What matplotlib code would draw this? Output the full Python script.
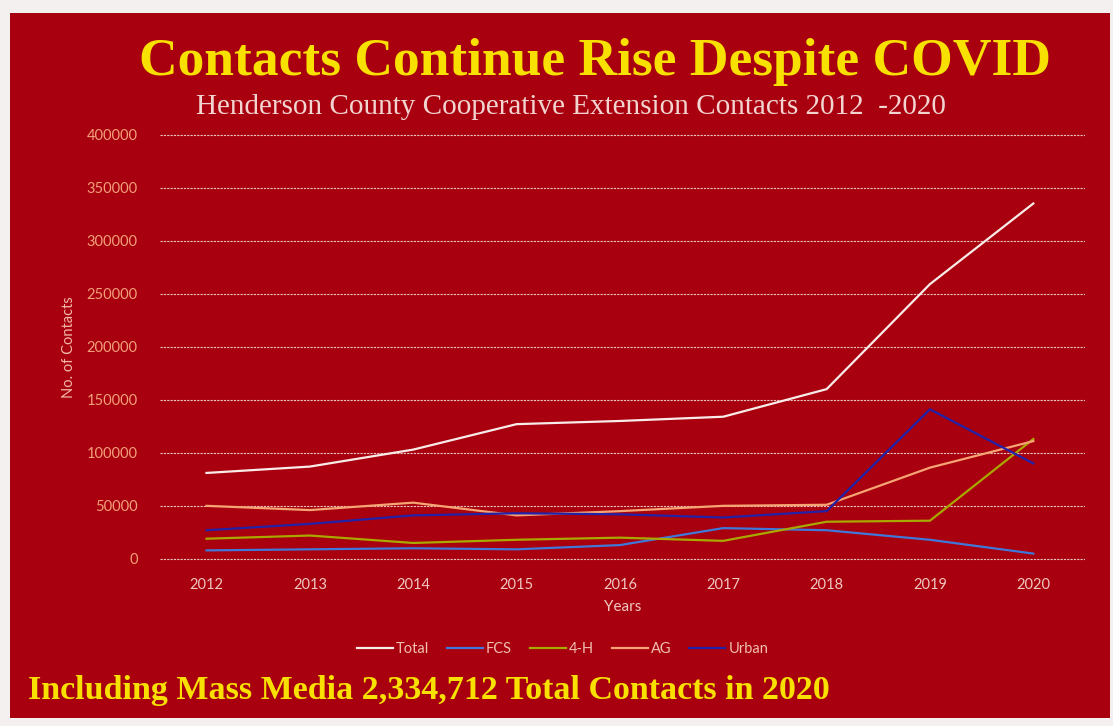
import matplotlib.pyplot as plt
from matplotlib.patches import Rectangle

years = ["2012", "2013", "2014", "2015", "2016", "2017", "2018", "2019", "2020"]
total = [81000, 87000, 103000, 127000, 130000, 134000, 160000, 259000, 335000]
fcs = [8000, 9000, 10000, 9000, 13000, 29000, 27000, 18000, 5000]
four_h = [19000, 22000, 15000, 18000, 20000, 17000, 35000, 36000, 113000]
ag = [50000, 46000, 53000, 41000, 45000, 50000, 51000, 86000, 111000]
urban = [27000, 33000, 41000, 43000, 42000, 39000, 45000, 141000, 90000]

series = [("Total", total, "#f8ece8"), ("FCS", fcs, "#3f78d8"),
          ("4-H", four_h, "#a9a800"), ("AG", ag, "#f6a474"),
          ("Urban", urban, "#2222a8")]

bg = "#a8000e"
fig = plt.figure(figsize=(11.13, 7.26), dpi=100, facecolor="#f4f0f0")
fig.patches.append(Rectangle((10/1113, 1-718/726), 1100/1113, 705/726,
                             transform=fig.transFigure, facecolor=bg, edgecolor="none", zorder=-5))

ax = fig.add_axes([160/1113, 1-561/726, 925/1113, 427/726])
ax.set_facecolor("none")
x = list(range(len(years)))
for name, vals, col in series:
    ax.plot(x, vals, color=col, lw=1.6, label=name)

ax.set_xlim(-0.45, 8.5)
ax.set_ylim(-2000, 400500)
ax.set_yticks(range(0, 400001, 50000))
ax.set_xticks(x)
ax.set_xticklabels(years)
ax.grid(axis="y", color="#e8c4c0", lw=0.8, ls=(0, (2, 1)))
ax.set_axisbelow(True)
for s in ax.spines.values():
    s.set_visible(False)
ax.tick_params(length=0, pad=12)
ax.tick_params(axis="y", labelcolor="#f2a07a", labelsize=10.5, pad=16)
ax.tick_params(axis="x", labelcolor="#f0c8c0", labelsize=10.5, pad=12)
for t in ax.get_xticklabels() + ax.get_yticklabels():
    t.set_family("Lato")
ax.set_ylabel("No. of Contacts", color="#f0b8a8", fontsize=10.5, family="Lato", labelpad=8)
ax.set_xlabel("Years", color="#f0c8c0", fontsize=11, family="Lato", labelpad=6)

leg = ax.legend(loc="upper center", bbox_to_anchor=(0.435, -0.16), ncol=5, frameon=False,
                handlelength=2.5, handletextpad=0.2, columnspacing=1.2,
                prop={"family": "Lato", "size": 10.5})
for t in leg.get_texts():
    t.set_color("#f0c0b0")

fig.text(0.535, 1-62/726, "Contacts Continue Rise Despite COVID", ha="center", va="center",
         color="#f8e000", fontsize=38.5, fontweight="bold", family="Liberation Serif")
fig.text(0.513, 1-107/726, "Henderson County Cooperative Extension Contacts 2012  -2020",
         ha="center", va="center", color="#f2d4d0", fontsize=21, family="Liberation Serif")
fig.text(28/1113, 1-690/726, "Including Mass Media 2,334,712 Total Contacts in 2020",
         ha="left", va="center", color="#f8e000", fontsize=24.5, fontweight="bold",
         family="Liberation Serif")

fig.savefig("out.png", dpi=100, facecolor=fig.get_facecolor())
